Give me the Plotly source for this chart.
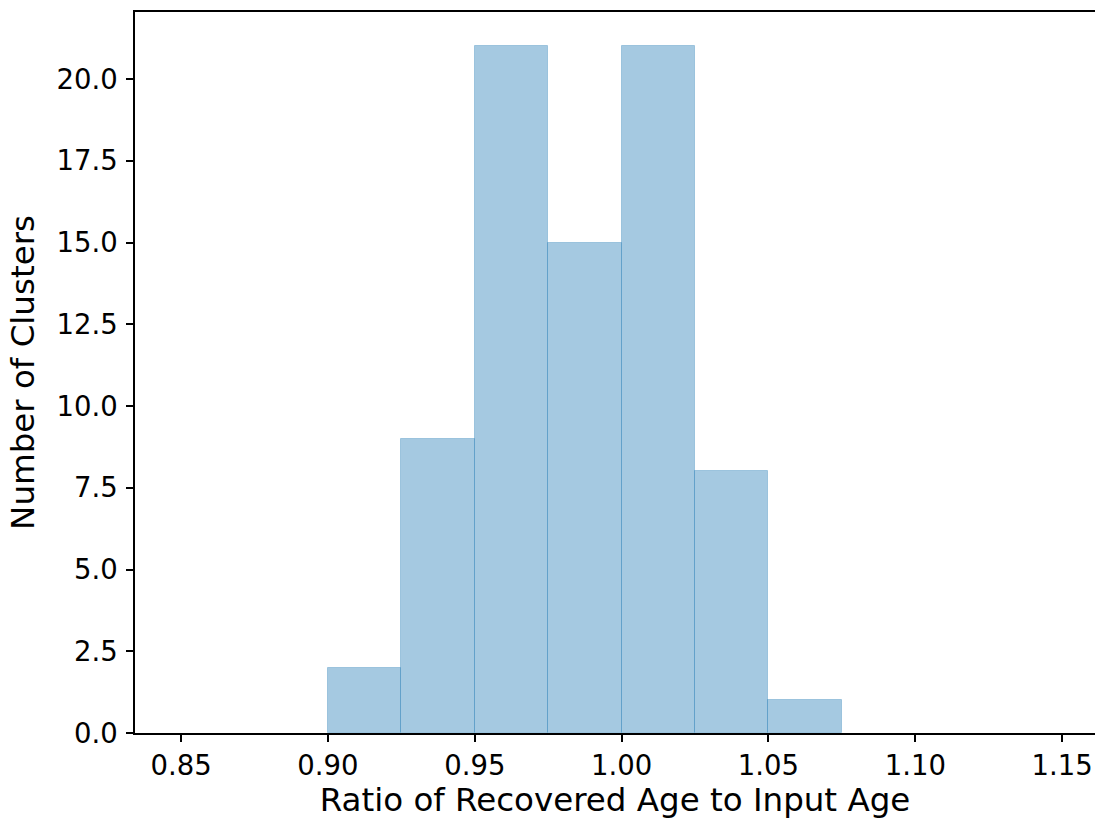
import plotly.graph_objects as go

bin_edges = [0.900, 0.925, 0.950, 0.975, 1.000, 1.025, 1.050, 1.075]
counts = [2, 9, 21, 15, 21, 8, 1]
x_ticks = [0.85, 0.90, 0.95, 1.00, 1.05, 1.10, 1.15]
y_ticks = [0.0, 2.5, 5.0, 7.5, 10.0, 12.5, 15.0, 17.5, 20.0]

centers = [(bin_edges[i] + bin_edges[i + 1]) / 2 for i in range(len(counts))]
widths = [bin_edges[i + 1] - bin_edges[i] for i in range(len(counts))]

font_family = "DejaVu Sans"

fig = go.Figure()
fig.add_trace(go.Bar(
    x=centers, y=counts, width=widths,
    marker=dict(color="rgba(31,119,180,0.4)",
                line=dict(color="rgba(31,119,180,0.3)", width=1)),
    showlegend=False,
))

fig.update_layout(
    width=1095, height=825,
    margin=dict(l=135, r=0, t=12, b=92),
    plot_bgcolor="white", paper_bgcolor="white",
    font=dict(family=font_family, color="black"),
    bargap=0,
    xaxis=dict(
        range=[0.8343, 1.1612],
        tickvals=x_ticks,
        ticktext=[f"{v:.2f}" for v in x_ticks],
        ticks="outside", ticklen=7, tickwidth=1.5, tickcolor="black",
        showline=True, linecolor="black", linewidth=1.5, mirror=True,
        showgrid=False, zeroline=False,
        tickfont=dict(size=27.5, family=font_family),
        title=dict(text="Ratio of Recovered Age to Input Age",
                   font=dict(size=32.5, family=font_family), standoff=6),
        automargin=False,
    ),
    yaxis=dict(
        range=[0, 22.05],
        tickvals=y_ticks,
        ticktext=[f"{v:.1f}" for v in y_ticks],
        ticks="outside", ticklen=7, tickwidth=1.5, tickcolor="black",
        showline=True, linecolor="black", linewidth=1.5,
        showgrid=False, zeroline=False,
        tickfont=dict(size=27.5, family=font_family),
        ticklabelstandoff=3,
        title=dict(text="Number of Clusters",
                   font=dict(size=32.5, family=font_family), standoff=12),
        automargin=False,
    ),
)

fig.write_html("out.html", config={"displayModeBar": False},
               post_script="document.body.style.margin='0px';")
